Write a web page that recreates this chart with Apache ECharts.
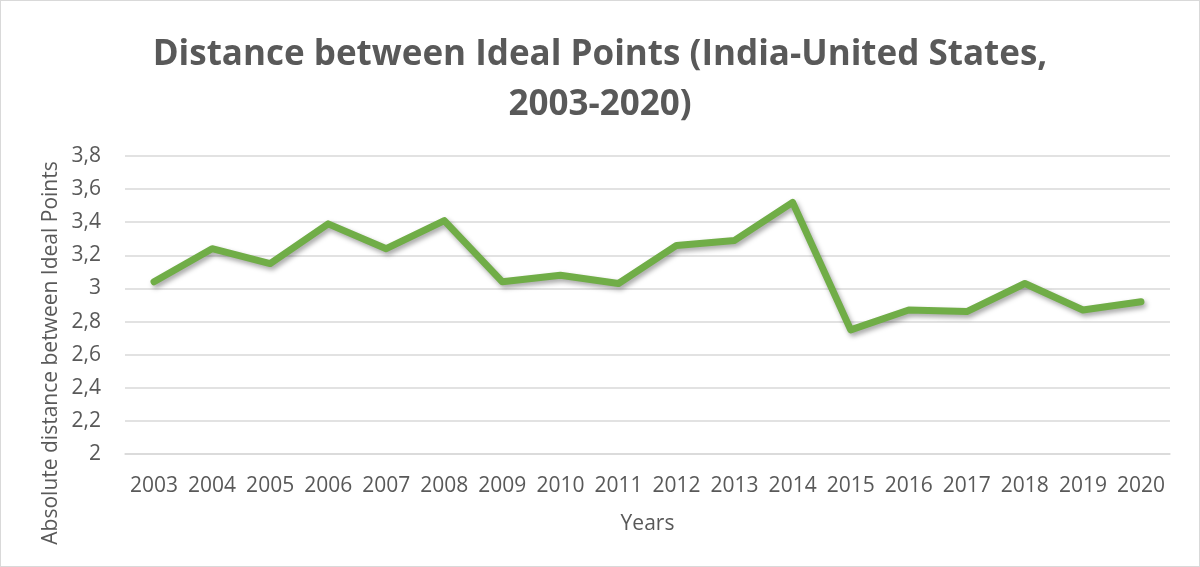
<!DOCTYPE html>
<html>
<head>
<meta charset="utf-8">
<script src="https://cdn.jsdelivr.net/npm/echarts@6/dist/echarts.min.js"></script>
<style>
  html, body { margin: 0; padding: 0; background: #fff; }
  #chart { width: 1200px; height: 567px; box-sizing: border-box; border: 1px solid #d9d9d9; }
</style>
</head>
<body>
<div id="chart"></div>
<script>
// Yearly distance between India and US ideal points
const years = ['2003','2004','2005','2006','2007','2008','2009','2010','2011','2012','2013','2014','2015','2016','2017','2018','2019','2020'];
const distance = [3.04, 3.24, 3.15, 3.39, 3.24, 3.41, 3.04, 3.08, 3.03, 3.26, 3.29, 3.52, 2.75, 2.87, 2.86, 3.03, 2.87, 2.92];
const yTicks = { min: 2, max: 3.8, step: 0.2 };

const chart = echarts.init(document.getElementById('chart'), null, { renderer: 'canvas' });
const textColor = '#595959';
const font = '"Open Sans", "Noto Sans", sans-serif';

chart.setOption({
  animation: false,
  title: {
    text: 'Distance between Ideal Points (India-United States,\n2003-2020)',
    left: 'center',
    top: 24,
    textStyle: {
      color: textColor,
      fontFamily: font,
      fontWeight: 'bold',
      fontSize: 35,
      lineHeight: 50
    }
  },
  grid: { left: 124, right: 29, top: 155, bottom: 112, containLabel: false },
  xAxis: {
    type: 'category',
    data: years,
    boundaryGap: true,
    name: 'Years',
    nameLocation: 'middle',
    nameGap: 60,
    nameTextStyle: { color: textColor, fontFamily: font, fontSize: 21 },
    axisLine: { show: true, lineStyle: { color: '#d9d9d9', width: 1.5 } },
    axisTick: { show: false },
    axisLabel: { color: textColor, fontFamily: font, fontSize: 21, margin: 22, interval: 0 }
  },
  yAxis: {
    type: 'value',
    min: yTicks.min,
    max: yTicks.max,
    interval: yTicks.step,
    axisLine: { show: false },
    axisTick: { show: false },
    splitLine: { lineStyle: { color: '#d9d9d9', width: 1.5 } },
    axisLabel: {
      color: textColor, fontFamily: font, fontSize: 21, margin: 24,
      formatter: v => String(Math.round(v * 10) / 10).replace('.', ',')
    }
  },
  graphic: [{
    type: 'text',
    rotation: Math.PI / 2,
    x: 50, y: 352,
    style: {
      text: 'Absolute distance between Ideal Points',
      fill: textColor,
      fontFamily: font,
      fontSize: 21,
      align: 'center',
      verticalAlign: 'middle'
    }
  }],
  series: [{
    type: 'line',
    data: distance,
    symbol: 'none',
    lineStyle: {
      color: '#70ad47',
      width: 7,
      cap: 'round',
      join: 'round',
      shadowColor: 'rgba(0,0,0,0.35)',
      shadowBlur: 5,
      shadowOffsetX: 2,
      shadowOffsetY: 3
    }
  }]
});
</script>
</body>
</html>
